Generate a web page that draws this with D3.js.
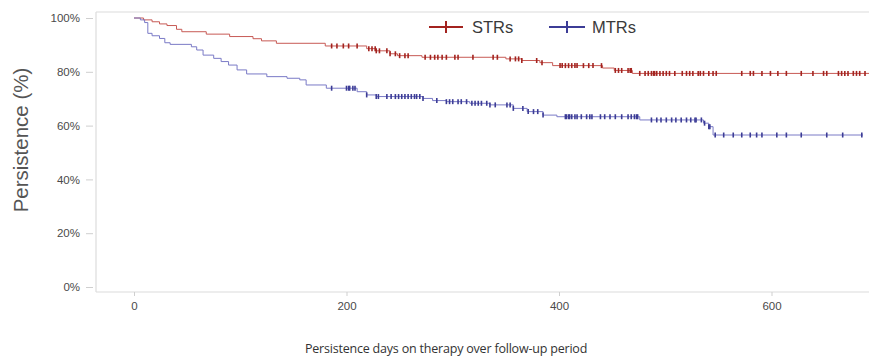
<!DOCTYPE html>
<html>
<head>
<meta charset="utf-8">
<script src="https://cdn.jsdelivr.net/npm/d3@7/dist/d3.min.js"></script>
<style>
  html, body { margin: 0; padding: 0; background: #fff; }
  svg { display: block; }
</style>
</head>
<body>
<svg id="chart" width="869" height="360"></svg>
<script>
// ---- data ----
const seriesNames = ["STRs", "MTRs"];
const yTicks = [0, 20, 40, 60, 80, 100];
const xTicks = [0, 200, 400, 600];

// Kaplan-Meier steps: [day, persistence %]
const strSteps = [[0,100],[9,99.3],[17,98.6],[24,97.8],[31,97.2],[40,95.8],[45,94.9],[68,94.0],[90,93.1],[112,92.3],[120,91.5],[134,90.6],[180,89.6],[219,88.6],[228,87.8],[241,86.7],[248,86.0],[271,85.4],[350,84.8],[365,84.2],[382,83.4],[394,82.3],[441,81.4],[452,80.5],[469,79.4]];
const strEnd = 692;
const mtrSteps = [[0,100],[6,99.3],[10,98.3],[13,94.3],[17,93.4],[24,92.4],[29,90.8],[34,90.2],[54,89.3],[59,88.1],[65,86.2],[75,85.0],[82,83.8],[89,82.5],[97,80.7],[106,79.2],[125,78.2],[144,77.6],[156,77.0],[162,75.1],[181,73.9],[210,72.6],[219,71.4],[228,70.8],[272,70.1],[281,69.3],[294,68.9],[316,68.3],[335,67.7],[357,66.4],[370,65.2],[385,63.9],[398,63.3],[476,62.1],[536,60.9],[541,59.6],[545,56.5]];
const mtrEnd = 686;

// censored observation days
const strCensor = [186,191,197,202,210,221,224,227,228,231,238,241,246,250,255,258,274,279,283,286,290,294,302,305,319,338,342,354,359,362,365,379,384,401,403,406,409,412,415,417,423,428,432,440,453,456,459,465,467,468,476,481,484,487,489,490,492,495,498,501,504,509,516,520,523,526,531,533,536,541,545,548,572,580,583,591,599,606,614,628,639,649,652,663,666,669,672,677,680,683,688];
const mtrCensor = [186,200,202,203,206,208,219,228,230,238,242,246,249,252,255,258,261,264,266,269,272,285,294,297,300,305,308,313,318,321,324,327,332,335,340,351,354,357,366,371,376,380,385,406,407,409,410,412,415,417,421,426,429,431,439,443,448,453,459,465,468,471,473,474,487,492,496,501,506,510,515,520,524,528,529,534,537,541,542,547,555,564,572,580,586,591,605,614,628,652,667,685];

// ---- layout ----
const frame = { left: 96, right: 869, top: 12, bottom: 292 };
const svg = d3.select("#chart");

const x = d3.scaleLinear().domain([0, 600]).range([134, 771.5]);
const y = d3.scaleLinear().domain([0, 100]).range([287, 18]);

const colors = {
  STRs: { line: "#c75a55", mark: "#a3231f" },
  MTRs: { line: "#7a7ac6", mark: "#3c3c96" }
};

// frame
const fg = svg.append("g").attr("stroke", "#dcdcdc").attr("stroke-width", 1.2).attr("fill", "none");
fg.append("line").attr("x1", frame.left).attr("x2", frame.left).attr("y1", frame.top).attr("y2", frame.bottom);
fg.append("line").attr("x1", frame.left).attr("x2", frame.right).attr("y1", frame.bottom).attr("y2", frame.bottom);
fg.append("line").attr("x1", frame.left).attr("x2", frame.right).attr("y1", frame.top).attr("y2", frame.top);

// y axis
const yAxis = svg.append("g")
  .attr("transform", `translate(93,0)`)
  .call(d3.axisLeft(y).tickValues(yTicks).tickFormat(d => d + "%").tickSize(7).tickPadding(6));
yAxis.select(".domain").remove();
yAxis.selectAll(".tick line").attr("stroke", "#cfcfcf");
yAxis.selectAll(".tick text").attr("fill", "#4a4a4a").style("font-family", "'Liberation Sans', Arial, sans-serif").style("font-size", "11.5px");

// x axis
const xAxis = svg.append("g")
  .attr("transform", `translate(0,${frame.bottom})`)
  .call(d3.axisBottom(x).tickValues(xTicks).tickFormat(d3.format("d")).tickSize(4).tickPadding(6));
xAxis.select(".domain").remove();
xAxis.selectAll(".tick line").attr("stroke", "#cfcfcf");
xAxis.selectAll(".tick text").attr("fill", "#4a4a4a").style("font-family", "'Liberation Sans', Arial, sans-serif").style("font-size", "11.5px");

// axis titles
svg.append("text")
  .attr("transform", "translate(28,140) rotate(-90)")
  .attr("text-anchor", "middle")
  .attr("fill", "#555")
  .style("font-family", "'Liberation Sans', Arial, sans-serif")
  .style("font-size", "20.5px")
  .text("Persistence (%)");

svg.append("text")
  .attr("x", 446).attr("y", 353)
  .attr("text-anchor", "middle")
  .attr("fill", "#333")
  .style("font-family", "'Open Sans', 'Noto Sans', sans-serif")
  .style("font-size", "12.5px")
  .style("letter-spacing", "-0.2px")
  .text("Persistence days on therapy over follow-up period");

// curves
const stepLine = d3.line().x(d => x(d[0])).y(d => y(d[1])).curve(d3.curveStepAfter);
function valueAt(steps, day) {
  const i = d3.bisector(d => d[0]).right(steps, day) - 1;
  return steps[Math.max(0, i)][1];
}
function drawSeries(name, steps, endDay, censor) {
  const pts = steps.concat([[endDay, steps[steps.length - 1][1]]]);
  const c = colors[name];
  svg.append("path")
    .datum(pts)
    .attr("fill", "none")
    .attr("stroke", c.line)
    .attr("stroke-width", 1)
    .attr("d", stepLine);
  svg.append("g").selectAll("line")
    .data(censor)
    .join("line")
    .attr("x1", d => x(d)).attr("x2", d => x(d))
    .attr("y1", d => y(valueAt(steps, d)) - 2.5)
    .attr("y2", d => y(valueAt(steps, d)) + 2.5)
    .attr("stroke", c.mark)
    .attr("stroke-width", 1.6);
}
drawSeries("STRs", strSteps, strEnd, strCensor);
drawSeries("MTRs", mtrSteps, mtrEnd, mtrCensor);

// legend
const legendItems = [
  { name: "STRs", x1: 429, x2: 463, tx: 472 },
  { name: "MTRs", x1: 549, x2: 585, tx: 592 }
];
const lg = svg.append("g");
legendItems.forEach((it, i) => {
  const c = colors[seriesNames[i]];
  lg.append("line").attr("x1", it.x1).attr("x2", it.x2).attr("y1", 27).attr("y2", 27)
    .attr("stroke", c.mark).attr("stroke-width", 2.2);
  lg.append("line").attr("x1", (it.x1 + it.x2) / 2).attr("x2", (it.x1 + it.x2) / 2).attr("y1", 21).attr("y2", 33)
    .attr("stroke", c.mark).attr("stroke-width", 2);
  lg.append("text").attr("x", it.tx).attr("y", 33)
    .attr("fill", "#3a3a3a")
    .style("font-family", "'Liberation Sans', Arial, sans-serif")
    .style("font-size", "16.5px")
    .text(it.name);
});
</script>
</body>
</html>
